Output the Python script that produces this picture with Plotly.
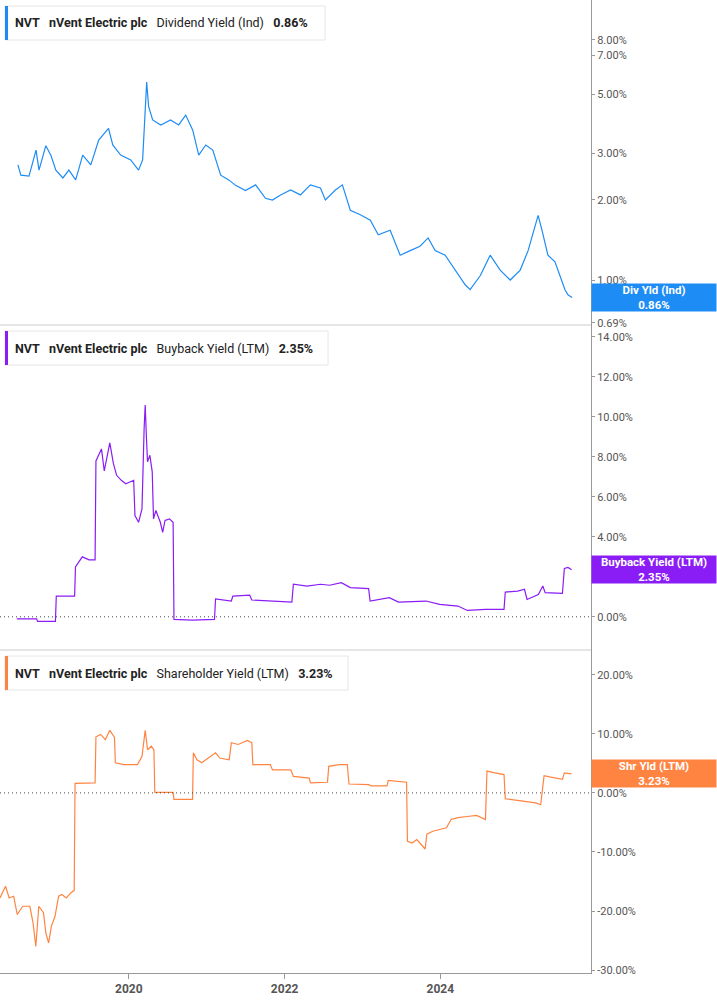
import math
import plotly.graph_objects as go

div_dates = ["2018-07-30","2018-08-13","2018-09-20","2018-10-23","2018-11-06","2018-12-08","2019-01-01","2019-01-24","2019-02-26","2019-03-26","2019-04-27","2019-05-30","2019-07-07","2019-08-13","2019-09-28","2019-10-18","2019-11-24","2020-01-10","2020-02-16","2020-03-06","2020-03-25","2020-04-03","2020-04-22","2020-05-30","2020-07-15","2020-08-22","2020-09-24","2020-10-27","2020-11-24","2020-12-27","2021-01-29","2021-03-07","2021-04-14","2021-05-16","2021-07-01","2021-08-18","2021-10-03","2021-11-05","2021-12-13","2022-01-29","2022-03-16","2022-05-02","2022-06-18","2022-07-11","2022-08-27","2022-09-29","2022-11-05","2022-12-22","2023-02-07","2023-03-16","2023-05-11","2023-06-27","2023-08-13","2023-09-28","2023-11-05","2023-12-08","2024-01-24","2024-03-11","2024-04-27","2024-05-20","2024-07-07","2024-08-22","2024-10-08","2024-11-24","2025-01-10","2025-02-16","2025-03-21","2025-04-04","2025-04-22","2025-05-20","2025-06-22","2025-07-15","2025-08-08","2025-08-22","2025-09-10"]
div_vals = [2.71,2.48,2.46,3.08,2.59,3.2,2.94,2.59,2.42,2.59,2.38,2.95,2.71,3.36,3.72,3.22,2.95,2.83,2.59,2.83,5.55,4.5,4.0,3.83,4.0,3.83,4.17,3.66,2.95,3.22,3.08,2.48,2.38,2.27,2.17,2.28,2.03,2.0,2.09,2.18,2.09,2.28,2.22,2.0,2.18,2.28,1.83,1.76,1.68,1.48,1.54,1.24,1.29,1.34,1.44,1.29,1.24,1.09,0.96,0.92,1.04,1.24,1.09,1.0,1.09,1.29,1.61,1.75,1.54,1.24,1.17,1.04,0.92,0.88,0.86]

bb_dates = ["2018-07-25","2018-10-26","2018-10-30","2019-01-22","2019-01-26","2019-04-22","2019-04-26","2019-05-28","2019-06-29","2019-07-27","2019-07-31","2019-08-26","2019-09-08","2019-10-04","2019-10-21","2019-11-05","2019-11-27","2019-12-18","2020-01-24","2020-01-30","2020-02-16","2020-03-03","2020-03-13","2020-03-18","2020-03-24","2020-03-29","2020-04-09","2020-04-20","2020-04-26","2020-05-07","2020-05-28","2020-06-08","2020-06-19","2020-07-10","2020-07-27","2020-07-31","2020-10-26","2021-02-06","2021-02-11","2021-04-26","2021-05-03","2021-07-21","2021-07-31","2021-11-16","2022-02-04","2022-02-11","2022-04-16","2022-06-19","2022-07-31","2022-09-24","2022-11-05","2023-01-30","2023-02-06","2023-05-07","2023-06-19","2023-10-26","2023-12-29","2024-03-24","2024-05-07","2024-07-31","2024-10-26","2024-11-01","2024-12-29","2025-01-30","2025-02-11","2025-04-05","2025-04-26","2025-05-07","2025-07-27","2025-08-05","2025-08-22","2025-09-08"]
bb_vals = [-0.10,-0.10,-0.23,-0.23,1.04,1.04,2.5,3.0,2.85,2.85,7.8,8.4,7.3,8.7,7.66,7.08,6.83,6.66,6.83,5.07,4.73,5.4,9.43,10.6,8.93,7.75,8.08,7.25,4.9,5.32,4.73,4.23,4.82,4.9,4.73,-0.13,-0.17,-0.13,0.9,0.79,1.04,1.09,0.84,0.79,0.74,1.63,1.54,1.63,1.58,1.71,1.46,1.41,0.79,0.96,0.74,0.79,0.62,0.54,0.32,0.37,0.37,1.24,1.29,1.38,0.87,1.12,1.54,1.21,1.17,2.42,2.47,2.35]

shr_dates = ["2018-05-07","2018-06-02","2018-06-19","2018-07-10","2018-07-27","2018-08-22","2018-09-24","2018-10-09","2018-10-22","2018-11-05","2018-11-27","2018-12-08","2018-12-21","2019-01-03","2019-01-20","2019-02-06","2019-02-21","2019-03-14","2019-04-05","2019-04-20","2019-04-24","2019-07-27","2019-07-31","2019-08-22","2019-09-13","2019-10-04","2019-10-26","2019-10-30","2019-12-08","2020-02-11","2020-03-03","2020-03-18","2020-03-29","2020-04-16","2020-04-28","2020-05-02","2020-07-27","2020-07-31","2020-10-26","2020-10-30","2020-11-16","2020-12-08","2021-02-11","2021-03-03","2021-04-16","2021-04-26","2021-05-28","2021-07-10","2021-07-31","2021-08-05","2021-10-26","2021-11-05","2022-01-30","2022-02-11","2022-04-26","2022-05-02","2022-07-21","2022-07-27","2022-09-13","2022-10-22","2022-10-30","2023-01-30","2023-02-11","2023-04-26","2023-05-02","2023-07-27","2023-07-31","2023-08-22","2023-09-13","2023-10-04","2023-10-22","2023-10-30","2023-11-27","2023-12-29","2024-01-30","2024-02-21","2024-03-24","2024-05-07","2024-06-19","2024-07-31","2024-08-07","2024-09-13","2024-10-26","2024-11-01","2025-01-20","2025-03-24","2025-04-16","2025-05-02","2025-05-28","2025-07-27","2025-08-05","2025-09-08"]
shr_vals = [-17.8,-15.8,-17.8,-17.5,-20.6,-19.2,-19.2,-22.0,-26.0,-19.2,-20.3,-23.7,-25.4,-22.6,-20.9,-17.5,-17.2,-17.8,-16.9,-16.5,1.6,1.7,9.5,9.9,9.0,10.6,9.4,5.1,4.8,4.8,6.2,10.6,7.3,7.9,7.3,0.1,0.1,-1.1,-1.1,6.8,5.6,5.1,6.8,5.9,5.6,8.5,8.2,8.9,8.5,4.8,4.8,3.9,3.9,2.8,2.5,1.7,1.8,4.5,4.8,4.8,1.5,1.4,1.2,1.2,2.1,1.8,-8.2,-8.5,-7.9,-8.8,-9.5,-7.0,-6.5,-6.2,-5.9,-4.5,-4.2,-4.0,-3.8,-4.5,3.7,3.4,3.1,-1.0,-1.4,-1.7,-2.0,2.9,2.7,2.3,3.4,3.23]

div_ticks = [0.69, 1, 2, 3, 5, 7, 8]
bb_ticks = [0, 2, 4, 6, 8, 10, 12, 14]
shr_ticks = [-30, -20, -10, 0, 10, 20]
x_ticks = ["2020-01-01", "2022-01-01", "2024-01-01"]
x_labels = ["2020", "2022", "2024"]

BLUE, PURPLE, ORANGE = "#1E8CF5", "#8A1CF5", "#FF8442"
H = 973
d1 = [648/H, 1]; d2 = [323/H, 648/H]; d3 = [0, 323/H]

fig = go.Figure()
fig.add_trace(go.Scatter(x=div_dates, y=div_vals, mode="lines", line=dict(color=BLUE, width=1.2), xaxis="x", yaxis="y"))
fig.add_trace(go.Scatter(x=bb_dates, y=bb_vals, mode="lines", line=dict(color=PURPLE, width=1.2), xaxis="x", yaxis="y2"))
fig.add_trace(go.Scatter(x=shr_dates, y=shr_vals, mode="lines", line=dict(color=ORANGE, width=1.2), xaxis="x", yaxis="y3"))

yax = dict(side="right", showgrid=False, zeroline=False, showline=True, linecolor="#999", linewidth=1,
           ticks="outside", ticklen=3, tickcolor="#999", tickfont=dict(family="Roboto", size=11, color="#555"))
fig.update_layout(
    width=717, height=1005, margin=dict(l=0, r=126, t=0, b=32),
    paper_bgcolor="white", plot_bgcolor="white", showlegend=False,
    xaxis=dict(anchor="y3", range=["2018-05-07", "2025-12-08"], tickvals=x_ticks, ticktext=x_labels,
               showgrid=False, showline=True, linecolor="#999", ticks="outside", ticklen=5, tickcolor="#999",
               tickfont=dict(family="Roboto", size=12, color="#555", weight="bold")),
    yaxis=dict(yax, domain=d1, anchor="x", type="log", range=[-0.169, 1.053], tickvals=div_ticks,
               ticktext=[f"{v:.2f}%" for v in div_ticks]),
    yaxis2=dict(yax, domain=d2, anchor="x", range=[-1.66, 14.6], tickvals=bb_ticks,
                ticktext=[f"{v:.2f}%" for v in bb_ticks]),
    yaxis3=dict(yax, domain=d3, anchor="x", range=[-30.5, 24.2], tickvals=shr_ticks,
                ticktext=[f"{v:.2f}%" for v in shr_ticks]),
)

for yp in [648/H, 323/H]:
    fig.add_shape(type="line", xref="paper", yref="paper", x0=0, x1=1, y0=yp, y1=yp, line=dict(color="#ccc", width=1))
for yr in ["y2", "y3"]:
    fig.add_shape(type="line", xref="paper", yref=yr, x0=0, x1=1, y0=0, y1=0,
                  line=dict(color="#444", width=1, dash="1px,3px"))

panels = [(d1, BLUE, "Dividend Yield (Ind)", "0.86%", "Div Yld (Ind)", 0.86, "y", 325),
          (d2, PURPLE, "Buyback Yield (LTM)", "2.35%", "Buyback Yield (LTM)", 2.35, "y2", 328),
          (d3, ORANGE, "Shareholder Yield (LTM)", "3.23%", "Shr Yld (LTM)", 3.23, "y3", 348)]
pw = 591
for dom, col, name, val, short, last, yref, bw in panels:
    ytop = dom[1] - 6/H
    fig.add_shape(type="rect", xref="paper", yref="paper", x0=5/pw, x1=bw/pw, y0=ytop - 34/H, y1=ytop,
                  line=dict(color="#e6e6e6", width=1), fillcolor="white")
    fig.add_shape(type="rect", xref="paper", yref="paper", x0=5/pw, x1=8/pw, y0=ytop - 34/H, y1=ytop,
                  line=dict(width=0), fillcolor=col)
    fig.add_annotation(xref="paper", yref="paper", x=13/pw, y=ytop - 17/H, xanchor="left", yanchor="middle",
                       showarrow=False, font=dict(family="Roboto", size=12.5, color="#222"),
                       text=f"<b>NVT</b>   <b>nVent Electric plc</b>   {name}   <b>{val}</b>")
    fig.add_annotation(xref="paper", yref=yref, x=1, y=(math.log10(last) if yref == "y" else last),
                       xanchor="left", yanchor="middle", showarrow=False, width=124, height=27,
                       bgcolor=col, borderpad=0, font=dict(family="Roboto", size=11.5, color="white", weight="bold"),
                       text=f"{short}<br>{val}", align="center")

fig.write_html("out.html", config={"displayModeBar": False},
               post_script="document.body.style.margin='0';document.body.style.padding='0';")
